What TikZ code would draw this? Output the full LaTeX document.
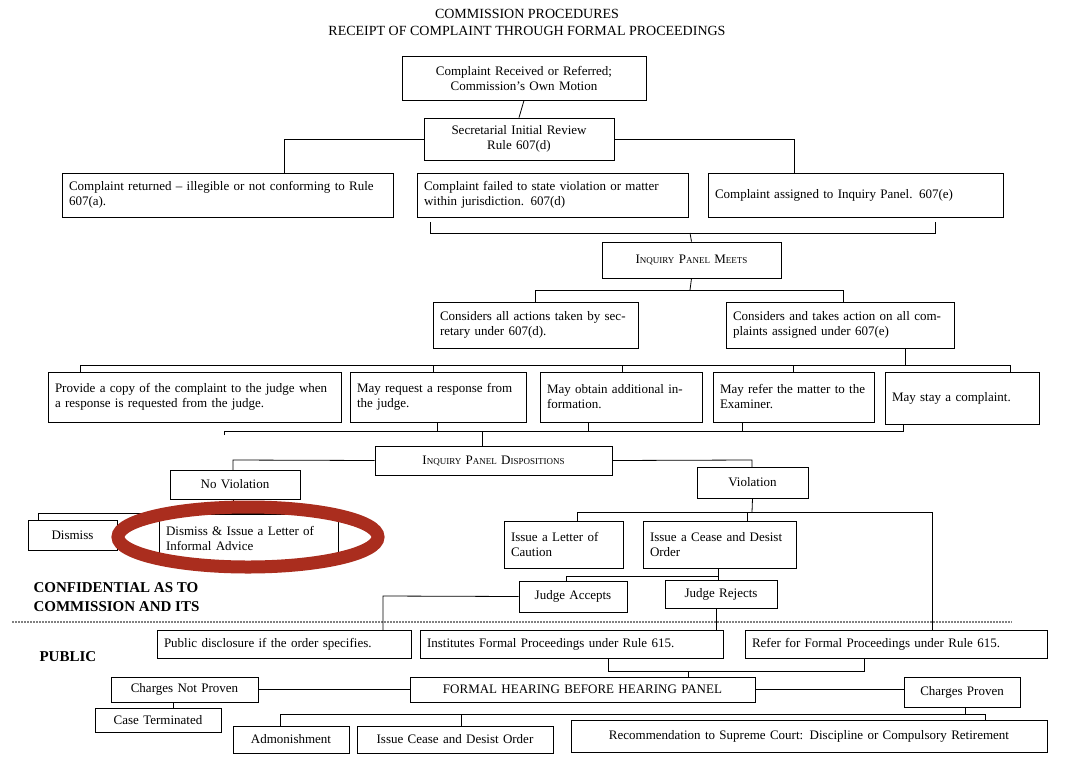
\documentclass[tikz,border=0pt]{standalone}
\usepackage{fontspec}
\setmainfont{Liberation Serif}
\begin{document}
\newcommand\bx[7]{%
 \pgfmathsetmacro\bw{#4-#2-14}\pgfmathsetmacro\bh{#5-#3}%
 \pgfmathsetmacro\cx{(#2+#4)/2}\pgfmathsetmacro\cy{(#3+#5)/2}%
 \node[box,align=#6,text width=\bw pt,minimum height=\bh pt] (#1) at (\cx,\cy) {#7};}
\begin{tikzpicture}[x=1pt,y=-1pt,
 box/.style={draw,line width=0.8pt,inner xsep=7pt,inner ysep=0pt,font=\fontsize{13}{15}\selectfont},
 ln/.style={line width=0.8pt}]
\useasboundingbox (0,0) rectangle (1067,779);
\fill[white] (0,0) rectangle (1067,779);
\node[font=\fontsize{14}{17}\selectfont,align=center] (title) at (527,22) {COMMISSION PROCEDURES\\RECEIPT OF COMPLAINT THROUGH FORMAL PROCEEDINGS};
\bx{b1}{402}{56}{646}{100}{center}{Complaint Received or Referred;\\Commission’s Own Motion}
\bx{b2}{424}{118}{614}{160}{center}{Secretarial Initial Review\\Rule 607(d)}
\bx{b3}{62}{173}{393}{217}{left}{Complaint returned – illegible or not conforming to Rule 607(a).}
\bx{b4}{417}{173}{688}{217}{left}{Complaint failed to state violation or matter within jurisdiction. 607(d)}
\bx{b5}{708}{173}{1003}{217}{left}{Complaint assigned to Inquiry Panel. 607(e)}
\bx{b6}{602}{242}{781}{278}{center}{I{\small NQUIRY} P{\small ANEL} M{\small EETS}}
\bx{b7}{433}{302}{638}{348}{left}{Considers all actions taken by secretary under 607(d).}
\bx{b8}{726}{302}{954}{348}{left}{Considers and takes action on all complaints assigned under 607(e)}
\bx{b9}{48}{372}{341}{422}{left}{Provide a copy of the complaint to the judge when a response is requested from the judge.}
\bx{b10}{350}{372}{526}{422}{left}{May request a response from the judge.}
\bx{b11}{540}{372}{702}{422}{left}{May obtain additional information.}
\bx{b12}{713}{372}{874}{422}{left}{May refer the matter to the Examiner.}
\bx{b13}{885}{372}{1039}{424}{left}{May stay a complaint.}
\bx{b14}{375}{446}{612}{475}{center}{I{\small NQUIRY} P{\small ANEL} D{\small ISPOSITIONS}}
\bx{nv}{170}{470}{300}{499}{center}{No Violation}
\bx{v}{697}{467}{808}{498}{center}{Violation}
\bx{dis}{28}{520}{117}{550}{center}{Dismiss}
\bx{disl}{159}{514}{338}{563}{left}{Dismiss \& Issue a Letter of Informal Advice}
\bx{loc}{504}{521}{623}{568}{left}{Issue a Letter of Caution}
\bx{cd}{643}{521}{796}{568}{left}{Issue a Cease and Desist Order}
\bx{ja}{519}{581}{627}{612}{center}{Judge Accepts}
\bx{jr}{665}{580}{777}{608}{center}{Judge Rejects}
\bx{pd}{157}{630}{411}{658}{left}{Public disclosure if the order specifies.}
\bx{ifp}{420}{630}{723}{658}{left}{Institutes Formal Proceedings under Rule 615.}
\bx{rfp}{745}{630}{1047}{658}{left}{Refer for Formal Proceedings under Rule 615.}
\bx{fh}{410}{677}{755}{702}{center}{FORMAL HEARING BEFORE HEARING PANEL}
\bx{cnp}{111}{677}{258}{702}{center}{Charges Not Proven}
\bx{ct}{95}{708}{221}{732}{center}{Case Terminated}
\bx{cp}{904}{677}{1020}{707}{center}{Charges Proven}
\bx{adm}{233}{726}{349}{753}{center}{Admonishment}
\bx{icd}{357}{726}{553}{753}{center}{Issue Cease and Desist Order}
\bx{rec}{571}{720}{1047}{752}{center}{Recommendation to Supreme Court: Discipline or Compulsory Retirement}
\node[font=\bfseries\fontsize{15}{19}\selectfont,align=left,anchor=west] (conf) at (30,597) {CONFIDENTIAL AS TO\\COMMISSION AND ITS};
\node[font=\bfseries\fontsize{15}{18}\selectfont,anchor=west] (pub) at (36,657) {PUBLIC};
\draw[gray,densely dotted,line width=2pt] (12,622) -- (1012,622);
% connectors
\draw[ln] (b1.south) -- (b2.north);
\draw[ln] (b2.west) -- (284,139) -- (284,173);
\draw[ln] (b2.east) -- (794,139) -- (794,173);
\draw[ln] (430,222) -- (430,233) -- (935,233) -- (935,222);
\draw[ln] (690,233) -- (b6.north);
\draw[ln] (b6.south) -- (690,290);
\draw[ln] (535,302) -- (535,290) -- (843,290) -- (843,302);
\draw[ln] (b8.south -| 905,0) -- (905,365);
\draw[ln] (80,372) -- (80,365) -- (1010,365) -- (1010,372);
\foreach \x in {433,622,793} \draw[ln] (\x,365) -- (\x,372);
\draw[ln] (224,435) -- (224,431) -- (903,431) -- (903,424);
\foreach \x in {437,588,742} \draw[ln] (\x,422) -- (\x,431);
\draw[ln] (482,431) -- (482,446);
\draw[ln] (b14.west) -- (233,460) -- (233,470);
\draw[ln] (b14.east) -- (752,460) -- (752,467);
\draw[ln] (233,499) -- (233,513);
\draw[ln] (38,520) -- (38,513) -- (325,513) -- (325,514);
\draw[ln] (v.south) -- (752,512);
\draw[ln] (577,521) -- (577,512) -- (932,512) -- (932,630);
\draw[ln] (747,512) -- (747,521);
\draw[ln] (718,568) -- (718,576);
\draw[ln] (566,581) -- (566,576) -- (718,576) -- (718,580);
\draw[ln] (ja.west) -- (383,596) -- (383,630);
\draw[ln] (716,608) -- (716,630);
\draw[ln] (608,658) -- (608,671) -- (864,671) -- (864,658);
\draw[ln] (688,671) -- (688,677);
\draw[ln] (cnp.east) -- (fh.west);
\draw[ln] (fh.east) -- (cp.west |- fh.east);
\draw[ln] (173,702) -- (173,708);
\draw[ln] (965,707) -- (965,714);
\draw[ln] (280,726) -- (280,714) -- (985,714) -- (985,720);
\draw[ln] (461,714) -- (461,726);
\draw[line width=13pt,color={rgb,255:red,170;green,45;blue,30}] (248,537) ellipse [x radius=130pt,y radius=30pt];
\end{tikzpicture}
\end{document}
